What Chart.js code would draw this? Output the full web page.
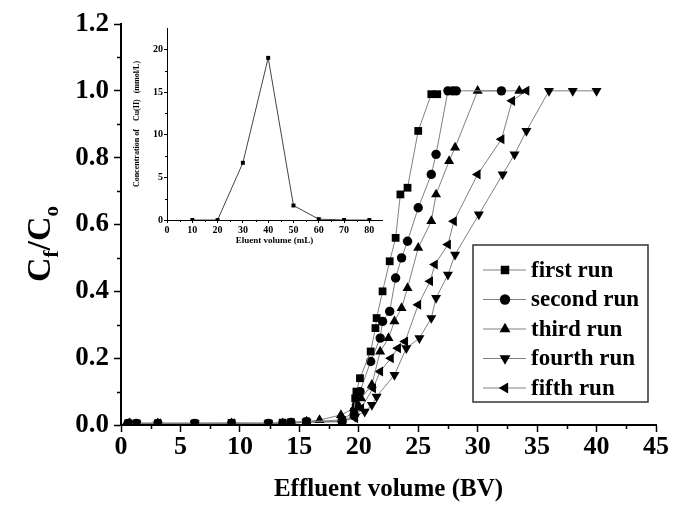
<!DOCTYPE html>
<html>
<head>
<meta charset="utf-8">
<script src="https://cdn.jsdelivr.net/npm/chart.js@4.4.0/dist/chart.umd.min.js"></script>
<style>
body { margin: 0; background: #fff; }
#wrap { position: relative; width: 675px; height: 506px; }
#main { position: absolute; left: 0; top: 0; }
#inset { position: absolute; left: 120px; top: 10px; }
</style>
</head>
<body>
<div id="wrap">
  <canvas id="main" width="675" height="506"></canvas>
  <canvas id="inset" width="280" height="250"></canvas>
</div>
<script>
// breakthrough curves, [BV, Cf/Co]
const firstRun = [[0.6,0.005],[1.3,0.005],[3.1,0.005],[6.2,0.005],[9.3,0.006],[12.4,0.005],[13.6,0.007],[14.3,0.008],[15.6,0.01],[18.6,0.015],[19.6,0.04],[19.7,0.08],[19.8,0.1],[20.1,0.14],[21.0,0.22],[21.4,0.29],[21.5,0.32],[22.0,0.40],[22.6,0.49],[23.1,0.56],[23.5,0.69],[24.1,0.71],[25.0,0.88],[26.1,0.99],[26.6,0.99]];
const secondRun = [[0.6,0.005],[1.3,0.005],[3.1,0.005],[6.2,0.005],[9.3,0.005],[12.4,0.005],[13.6,0.005],[14.3,0.008],[15.6,0.01],[18.6,0.01],[19.6,0.03],[19.8,0.06],[20.1,0.10],[21.0,0.19],[21.8,0.26],[22.0,0.31],[22.6,0.34],[23.1,0.44],[23.6,0.50],[24.1,0.55],[25.0,0.65],[26.1,0.75],[26.5,0.81],[27.5,1.0],[27.9,1.0],[28.2,1.0],[32.0,1.0]];
const thirdRun = [[0.7,0.005],[3.1,0.005],[9.3,0.005],[13.6,0.005],[15.6,0.01],[16.7,0.015],[18.5,0.03],[19.6,0.05],[20.2,0.08],[21.1,0.12],[21.8,0.22],[22.5,0.26],[23.0,0.31],[23.6,0.35],[24.1,0.41],[25.0,0.53],[26.1,0.61],[26.5,0.69],[27.6,0.79],[28.1,0.83],[30.0,1.0],[33.5,1.0]];
const fourthRun = [[1.3,0.005],[6.2,0.005],[12.4,0.005],[15.6,0.008],[18.6,0.01],[19.7,0.025],[20.5,0.04],[21.1,0.06],[21.5,0.085],[23.0,0.15],[24.0,0.23],[25.1,0.26],[26.1,0.32],[26.5,0.38],[27.5,0.45],[28.1,0.51],[30.1,0.63],[32.1,0.75],[33.1,0.81],[34.1,0.88],[36.0,1.0],[38.0,1.0],[40.0,1.0]];
const fifthRun = [[0.6,0.005],[3.1,0.005],[9.3,0.005],[14.3,0.005],[15.6,0.008],[18.6,0.012],[19.7,0.02],[20.2,0.05],[21.2,0.11],[21.8,0.16],[22.7,0.20],[23.3,0.23],[23.9,0.25],[25.0,0.36],[26.0,0.43],[26.4,0.48],[27.5,0.54],[28.0,0.61],[30.0,0.75],[32.0,0.855],[32.9,0.97],[34.1,1.0]];

const runLabels = ['first run', 'second run', 'third run', 'fourth run', 'fifth run'];

// elution curve of the inset
const eluentVolume = [10, 20, 30, 40, 50, 60, 70, 80];
const cuConc = [0, 0, 6.7, 19, 1.7, 0.1, 0, 0];
const insetXTicks = [0, 10, 20, 30, 40, 50, 60, 70, 80];
const insetYTicks = [0, 5, 10, 15, 20];

const serif = '"Liberation Serif", "Times New Roman", serif';

function runSet(label, pts, style, rot, r) {
  return {
    label: label,
    data: pts.map(p => ({x: p[0], y: p[1]})),
    showLine: true,
    borderColor: '#808080',
    borderWidth: 1,
    pointStyle: style,
    pointRotation: rot,
    pointRadius: r,
    pointBackgroundColor: '#000',
    pointBorderColor: '#000',
    pointBorderWidth: 0
  };
}

// minor ticks halfway between the labelled ones
const minorTicks = {
  id: 'minorTicks',
  afterDraw(chart, args, opts) {
    const ctx = chart.ctx;
    const xs = chart.scales.x, ys = chart.scales.y;
    ctx.save();
    ctx.strokeStyle = '#000';
    ctx.lineWidth = opts.width;
    ctx.beginPath();
    for (let v = opts.xStep / 2; v < xs.max; v += opts.xStep) {
      const px = Math.round(xs.getPixelForValue(v)) + 0.5;
      ctx.moveTo(px, xs.top);
      ctx.lineTo(px, xs.top + opts.len);
    }
    for (let v = opts.yStep / 2; v < ys.max; v += opts.yStep) {
      const py = Math.round(ys.getPixelForValue(v)) + 0.5;
      ctx.moveTo(ys.right, py);
      ctx.lineTo(ys.right - opts.len, py);
    }
    ctx.stroke();
    ctx.restore();
  }
};

// Cf/Co with subscripts, turned on its side
const yTitle = {
  id: 'yTitle',
  afterDraw(chart) {
    const ctx = chart.ctx;
    const parts = [['C', 34, 0], ['f', 21, 8], ['/C', 34, 0], ['o', 21, 8]];
    ctx.save();
    ctx.fillStyle = '#000';
    ctx.translate(50, 244);
    ctx.rotate(-Math.PI / 2);
    let w = 0;
    parts.forEach(p => { ctx.font = 'bold ' + p[1] + 'px ' + serif; w += ctx.measureText(p[0]).width; });
    let x = -w / 2;
    ctx.textBaseline = 'alphabetic';
    parts.forEach(p => {
      ctx.font = 'bold ' + p[1] + 'px ' + serif;
      ctx.fillText(p[0], x, p[2]);
      x += ctx.measureText(p[0]).width;
    });
    ctx.restore();
  }
};

// boxed legend with a line through each marker
const boxLegend = {
  id: 'boxLegend',
  afterDraw(chart) {
    const ctx = chart.ctx;
    const left = 473, top = 245, right = 648, bottom = 402;
    ctx.save();
    ctx.strokeStyle = '#333';
    ctx.lineWidth = 1.5;
    ctx.strokeRect(left, top, right - left, bottom - top);
    ctx.font = 'bold 23px ' + serif;
    ctx.textBaseline = 'middle';
    chart.data.datasets.forEach((ds, i) => {
      const y = 270 + i * 29.5;
      ctx.strokeStyle = '#808080';
      ctx.lineWidth = 1;
      ctx.beginPath();
      ctx.moveTo(483, y);
      ctx.lineTo(526, y);
      ctx.stroke();
      ctx.fillStyle = '#000';
      ctx.strokeStyle = '#000';
      Chart.helpers.drawPoint(ctx, {pointStyle: ds.pointStyle, rotation: ds.pointRotation, radius: ds.pointRadius + 0.5, borderWidth: 0}, 505, y);
      ctx.fillStyle = '#000';
      ctx.fillText(ds.label, 531, y + 1);
    });
    ctx.restore();
  }
};

new Chart(document.getElementById('main'), {
  type: 'scatter',
  data: {
    datasets: [
      runSet(runLabels[0], firstRun, 'rect', 0, 5.5),
      runSet(runLabels[1], secondRun, 'circle', 0, 4.7),
      runSet(runLabels[2], thirdRun, 'triangle', 0, 5.8),
      runSet(runLabels[3], fourthRun, 'triangle', 180, 5.8),
      runSet(runLabels[4], fifthRun, 'triangle', 270, 5.8)
    ]
  },
  options: {
    responsive: false,
    animation: false,
    layout: { padding: { top: 24, right: 19, left: 0, bottom: 0 } },
    plugins: {
      legend: { display: false },
      tooltip: { enabled: false },
      minorTicks: { xStep: 5, yStep: 0.2, len: 4, width: 1.5 }
    },
    scales: {
      x: {
        type: 'linear', min: 0, max: 45,
        afterFit: s => { s.height = 81; },
        ticks: { stepSize: 5, color: '#000', padding: 0, font: { family: serif, size: 26, weight: 'bold' } },
        grid: { drawOnChartArea: false, drawTicks: true, tickLength: 7, tickColor: '#000', tickWidth: 1.5 },
        border: { display: true, color: '#000', width: 2 },
        title: { display: true, text: 'Effluent volume (BV)', color: '#000', padding: { top: 0, bottom: 1 }, font: { family: serif, size: 25, weight: 'bold' } }
      },
      y: {
        type: 'linear', min: 0, max: 1.2,
        afterFit: s => { s.width = 121; },
        ticks: { stepSize: 0.2, color: '#000', padding: 5, callback: v => v.toFixed(1), font: { family: serif, size: 27, weight: 'bold' } },
        grid: { drawOnChartArea: false, drawTicks: true, tickLength: 7, tickColor: '#000', tickWidth: 1.5 },
        border: { display: true, color: '#000', width: 2 }
      }
    }
  },
  plugins: [minorTicks, yTitle, boxLegend]
});

new Chart(document.getElementById('inset'), {
  type: 'line',
  data: {
    datasets: [{
      data: eluentVolume.map((v, i) => ({x: v, y: cuConc[i]})),
      borderColor: '#444',
      borderWidth: 1,
      pointStyle: 'rect',
      pointRadius: 2.8,
      pointBackgroundColor: '#000',
      pointBorderWidth: 0
    }]
  },
  options: {
    responsive: false,
    animation: false,
    layout: { padding: { top: 18, right: 18, left: 0, bottom: 0 } },
    plugins: {
      legend: { display: false },
      tooltip: { enabled: false },
      minorTicks: { xStep: 10, yStep: 5, len: 2, width: 1 }
    },
    scales: {
      x: {
        type: 'linear', min: 0, max: 85,
        afterFit: s => { s.height = 40; },
        afterBuildTicks: s => { s.ticks = insetXTicks.map(v => ({value: v})); },
        ticks: { autoSkip: false, maxRotation: 0, color: '#000', padding: 1, font: { family: serif, size: 10, weight: 'bold' } },
        grid: { drawOnChartArea: false, drawTicks: true, tickLength: 3, tickColor: '#000', tickWidth: 1 },
        border: { display: true, color: '#000', width: 1 },
        title: { display: true, text: 'Eluent volume (mL)', color: '#000', padding: { top: 0, bottom: 14 }, font: { family: serif, size: 9, weight: 'bold' } }
      },
      y: {
        type: 'linear', min: 0, max: 22.5,
        afterFit: s => { s.width = 47; },
        afterBuildTicks: s => { s.ticks = insetYTicks.map(v => ({value: v})); },
        ticks: { autoSkip: false, color: '#000', padding: 1, font: { family: serif, size: 10, weight: 'bold' } },
        grid: { drawOnChartArea: false, drawTicks: true, tickLength: 3, tickColor: '#000', tickWidth: 1 },
        border: { display: true, color: '#000', width: 1 },
        title: { display: true, text: 'Concentration of    Cu(II)   (mmol/L)', color: '#000', padding: { top: 12, bottom: 0 }, font: { family: serif, size: 8, weight: 'bold' } }
      }
    }
  },
  plugins: [minorTicks]
});
</script>
</body>
</html>
